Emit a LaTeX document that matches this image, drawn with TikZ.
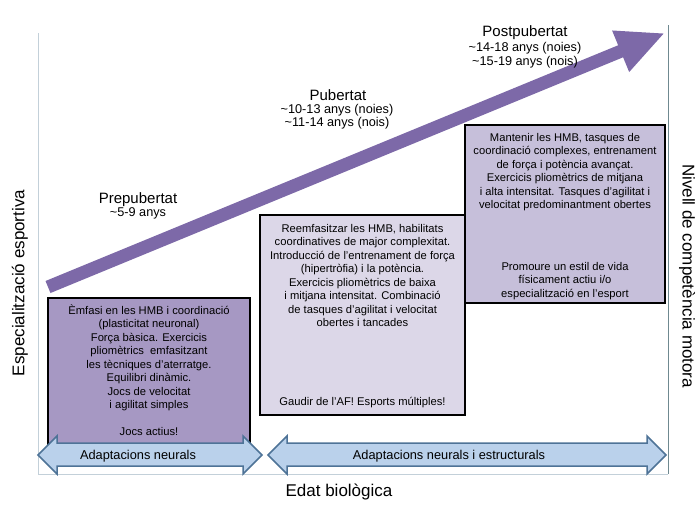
\documentclass[tikz,border=0pt]{standalone}
\usepackage{fontspec}
\setmainfont{Liberation Sans}
\usetikzlibrary{arrows.meta}
\definecolor{bigarrow}{HTML}{7D69A8}
\definecolor{boxA}{HTML}{A698C3}
\definecolor{boxB}{HTML}{DCD7E8}
\definecolor{boxC}{HTML}{C6BFDA}
\definecolor{darrowfill}{HTML}{BAD1EB}
\definecolor{darrowline}{HTML}{4E7397}
\definecolor{axisL}{HTML}{C3D0D9}
\definecolor{axisR}{HTML}{6F8990}
\begin{document}
\begin{tikzpicture}[x=1pt,y=-1pt,
  stagebox/.style={draw=black, line width=2pt, inner sep=0pt, minimum width=#1},
  boxtext/.style={align=center, font=\fontsize{11.2}{13.5}\selectfont, inner sep=0pt},
  stagetitle/.style={font=\fontsize{15}{18}\selectfont, inner sep=0pt, anchor=base},
  stageage/.style={font=\fontsize{12.7}{13.5}\selectfont, inner sep=0pt, anchor=base},
  axislabel/.style={font=\fontsize{17}{20}\selectfont, inner sep=0pt},
  darrow/.style={fill=darrowfill, draw=darrowline, line width=1.5pt, line join=miter},
  darrowlabel/.style={font=\fontsize{12.8}{15}\selectfont, inner sep=0pt, anchor=base}
]
\useasboundingbox (0,0) rectangle (700,506);
% axes
\coordinate (ax0) at (38,474);
\coordinate (axT) at (38,33);
\coordinate (axR) at (668,474);
\coordinate (axRT) at (668,25);
\draw[axisL, line width=1pt] (axT) -- (ax0) -- (axR);
\draw[axisR, line width=1pt] (axRT) -- (axR);
% big arrow
\coordinate (arrS) at (48,287);
\coordinate (arrE) at (665,33);
\draw[bigarrow, line width=13pt, -{Triangle[length=48pt,width=41pt]}] (arrS) -- (arrE);
% boxes
\node[stagebox=202pt, fill=boxA, minimum height=157pt] (b1) at (149,376.5) {};
\node[stagebox=205pt, fill=boxB, minimum height=200pt] (b2) at (362.5,315) {};
\node[stagebox=200pt, fill=boxC, minimum height=178pt] (b3) at (565,214) {};
% box texts
\node[boxtext, anchor=north] (t1) at (149,304.5) {Èmfasi en les HMB i coordinació\\(plasticitat neuronal)\\Força bàsica. Exercicis\\pliomètrics\ \ emfasitzant\\les tècniques d’aterratge.\\Equilibri dinàmic.\\Jocs de velocitat\\i agilitat simples\\[13.5pt]Jocs actius!};
\node[boxtext, anchor=north] (t2) at (362.5,224) {Reemfasitzar les HMB, habilitats\\coordinatives de major complexitat.\\Introducció de l’entrenament de força\\(hipertròfia) i la potència.\\Exercicis pliomètrics de baixa\\i mitjana intensitat. Combinació\\de tasques d’agilitat i velocitat\\obertes i tancades};
\node[boxtext, anchor=base] (t2b) at (362.5,405) {Gaudir de l’AF! Esports múltiples!};
\node[boxtext, anchor=north] (t3) at (565,133) {Mantenir les HMB, tasques de\\coordinació complexes, entrenament\\de força i potència avançat.\\Exercicis pliomètrics de mitjana\\i alta intensitat. Tasques d’agilitat i\\velocitat predominantment obertes};
\node[boxtext, anchor=north] (t3b) at (565,262) {Promoure un estil de vida\\físicament actiu i/o\\especialització en l’esport};
% stage titles
\node[stagetitle] (s1) at (138,203) {Prepubertat};
\node[stageage] (s1a) at (138,216.5) {\textasciitilde5-9 anys};
\node[stagetitle] (s2) at (338,100.5) {Pubertat};
\node[stageage] (s2a) at (337,113.5) {\textasciitilde10-13 anys (noies)};
\node[stageage] (s2b) at (337,126) {\textasciitilde11-14 anys (nois)};
\node[stagetitle] (s3) at (525,36.5) {Postpubertat};
\node[stageage] (s3a) at (525,51.5) {\textasciitilde14-18 anys (noies)};
\node[stageage] (s3b) at (525,65.5) {\textasciitilde15-19 anys (nois)};
% double arrows
\draw[darrow] (38,455) -- (57,436) -- (57,443) -- (243,443) -- (243,436) -- (262,455) -- (243,474) -- (243,466) -- (57,466) -- (57,474) -- cycle;
\draw[darrow] (268,455) -- (287,436) -- (287,443) -- (647,443) -- (647,436) -- (666,455) -- (647,474) -- (647,466) -- (287,466) -- (287,474) -- cycle;
\node[darrowlabel] (d1) at (138,459.5) {Adaptacions neurals};
\node[darrowlabel] (d2) at (449,459.5) {Adaptacions neurals i estructurals};
% axis labels
\node[axislabel, rotate=90] (yl) at (20,283) {Especialització esportiva};
\node[axislabel, rotate=-90] (yr) at (687,276) {Nivell de competència motora};
\node[axislabel, anchor=base] (xl) at (339,496) {Edat biològica};
\end{tikzpicture}
\end{document}
